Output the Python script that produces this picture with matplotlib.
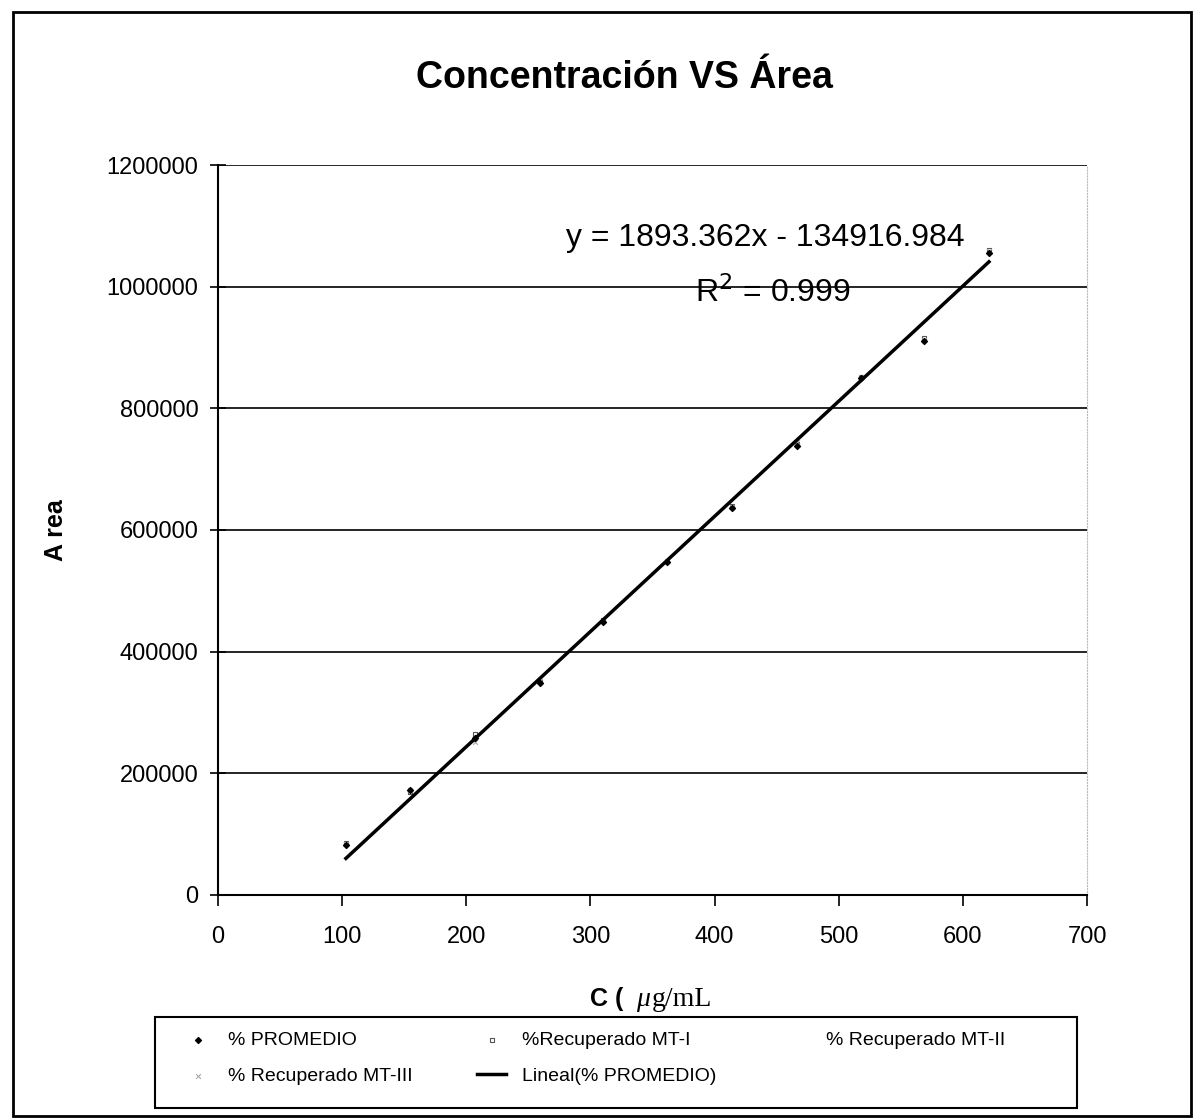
import numpy as np
import matplotlib
matplotlib.use("Agg")
import matplotlib.pyplot as plt
from matplotlib.patches import Rectangle
from matplotlib.ticker import FuncFormatter

plt.rcParams['font.family'] = ['Liberation Sans', 'DejaVu Sans']

# concentracion (ug/mL) y areas
conc = [103, 155, 207, 259, 310, 362, 414, 466, 518, 569, 621]
area_prom = [82000, 172000, 258000, 348000, 449000, 547000, 636000, 738000, 850000, 911000, 1055000]
area_mt1 = [85000, 170000, 265000, 350000, 452000, 548000, 640000, 742000, 852000, 915000, 1060000]
area_mt2 = [80000, 174000, 255000, 346000, 447000, 546000, 633000, 735000, 848000, 909000, 1052000]
area_mt3 = [84000, 173000, 252000, 352000, 450000, 549000, 638000, 745000, 851000, 913000, 1058000]

slope = 1893.362
intercept = -134916.984

fig = plt.figure(figsize=(11.96, 11.18), dpi=100)

# marco exterior
fig.patches.append(Rectangle((0.011, 0.002), 0.985, 0.987, transform=fig.transFigure,
                             fill=False, lw=2.0, ec='black'))
# marco de la leyenda
fig.patches.append(Rectangle((0.1296, 0.009), 0.7709, 0.0813, transform=fig.transFigure,
                             fill=False, lw=1.5, ec='black'))

ax = fig.add_axes([0.1823, 0.1995, 0.7266, 0.6529])
ax.scatter(conc, area_prom, marker='D', s=9, c='black', zorder=3, label='% PROMEDIO')
ax.scatter(conc, area_mt1, marker='s', s=10, facecolors='white', edgecolors='#555555',
           lw=0.8, zorder=2, label='%Recuperado MT-I')
ax.scatter(conc, area_mt2, marker='^', s=8, c='white', zorder=2, label='% Recuperado MT-II')
ax.scatter(conc, area_mt3, marker='x', s=12, c='#aaaaaa', lw=0.8, zorder=2,
           label='% Recuperado MT-III')

xfit = np.array([conc[0], conc[-1]])
ax.plot(xfit, slope * xfit + intercept, color='black', lw=2.5, zorder=4,
        label='Lineal(% PROMEDIO)')

ax.set_xlim(0, 700)
ax.set_ylim(0, 1200000)
ax.set_xticks(np.arange(0, 701, 100))
ax.set_yticks(np.arange(0, 1200001, 200000))
ax.yaxis.set_major_formatter(FuncFormatter(lambda v, p: '%d' % v))
ax.grid(axis='y', color='black', lw=1.2)
ax.set_axisbelow(True)
for s in ['left', 'bottom']:
    ax.spines[s].set_linewidth(1.5)
ax.spines['top'].set_visible(False)
ax.spines['right'].set_color('#bbbbbb')
ax.spines['right'].set_linestyle(':')
ax.tick_params(axis='y', direction='inout', length=12, width=1.2, labelsize=17, pad=8)
ax.tick_params(axis='x', direction='out', length=8, width=1.2, labelsize=17, pad=14)

ax.set_ylabel('A rea', fontsize=18, fontweight='bold', labelpad=28)

fig.text(0.522, 0.930, 'Concentración VS Área', ha='center', va='center',
         fontsize=27, fontweight='bold')

ax.text(280, 1080000, 'y = 1893.362x - 134916.984', fontsize=23, va='center')
ax.text(384, 990000, r'R$^2$ = 0.999', fontsize=23, va='center')

fig.text(0.493, 0.106, 'C (', ha='left', va='center', fontsize=18, fontweight='bold')
fig.text(0.532, 0.106, 'μ', ha='left', va='center', fontsize=20,
         family=['Liberation Serif', 'DejaVu Serif'], style='italic')
fig.text(0.545, 0.106, 'g/mL', ha='left', va='center', fontsize=20,
         family=['Liberation Serif', 'DejaVu Serif'])

handles, labels = ax.get_legend_handles_labels()
order = [0, 3, 1, 4, 2]
leg = fig.legend([handles[i] for i in order], [labels[i] for i in order],
                 loc='lower left', bbox_to_anchor=(0.1338, 0.009, 0.726, 0.0813),
                 mode='expand', ncol=3, fontsize=14, frameon=False,
                 handlelength=1.5, borderpad=0.7, labelspacing=0.9)

fig.savefig('out.png', dpi=100)
